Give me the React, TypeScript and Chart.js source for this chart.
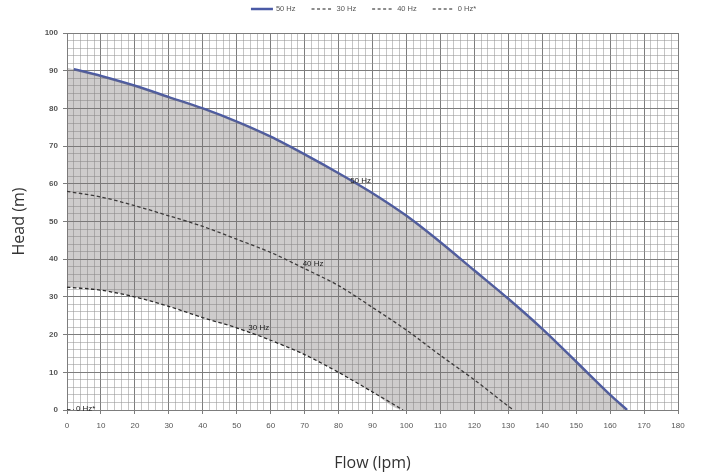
import React, { useEffect, useRef } from 'react';
import { Chart, registerables } from 'chart.js';

Chart.register(...registerables);

// ---- data ----
const flow50 = [2, 10, 20, 30, 40, 50, 60, 70, 80, 90, 100, 110, 120, 130, 140, 150, 160, 165];
const head50 = [90.4, 88.6, 86, 83, 80, 76.5, 72.5, 67.8, 62.8, 57.5, 51.5, 44.5, 37, 29.5, 21.5, 12.8, 4, 0];

const flow40 = [0, 10, 20, 30, 40, 50, 60, 70, 80, 90, 100, 110, 120, 130, 131.5];
const head40 = [58, 56.5, 54.2, 51.5, 48.7, 45.3, 41.8, 37.5, 33, 27.2, 21.2, 14.5, 8, 1, 0];

const flow30 = [0, 10, 20, 30, 40, 50, 60, 70, 80, 90, 99];
const head30 = [32.6, 31.8, 30, 27.5, 24.5, 21.8, 18.5, 14.7, 10, 4.8, 0];

const flow0 = [0, 2];
const head0 = [0, 0];

// shaded operating range: upper edge (50 Hz curve from the axis) and lower edge (30 Hz curve, then the flow axis)
const upperFlow = [0, ...flow50];
const upperHead = [90.8, ...head50];
const boundaryFlow = [...flow30, 165];
const boundaryHead = [...head30, 0];

const legendOrder = ['50 Hz', '30 Hz', '40 Hz', '0 Hz*'];

const curveLabelText = ['50 Hz', '40 Hz', '30 Hz', '0 Hz*'];
const curveLabelFlow = [86.5, 72.5, 56.5, 5.5];
const curveLabelHead = [60.8, 38.8, 21.8, 0.4];

const xTickLabels = ['0', '10', '20', '30', '40', '50', '60', '70', '80', '90', '100', '110', '120', '130', '140', '150', '160', '170', '180'];
const yTickLabels = ['0', '10', '20', '30', '40', '50', '60', '70', '80', '90', '100'];

const toPoints = (xs: number[], ys: number[]) => xs.map((x, i) => ({ x, y: ys[i] }));

const MAJOR = '#7d7d7d';
const MINOR = 'rgba(150,150,150,0.55)';

const curveLabelsPlugin = {
  id: 'curveLabels',
  afterDatasetsDraw(chart: any) {
    const { ctx, scales } = chart;
    ctx.save();
    ctx.font = '8px "Liberation Sans", Arial, sans-serif';
    ctx.fillStyle = '#222';
    ctx.textAlign = 'center';
    ctx.textBaseline = 'middle';
    curveLabelText.forEach((t, i) => {
      const px = scales.x.getPixelForValue(curveLabelFlow[i]);
      const py = scales.y.getPixelForValue(curveLabelHead[i]);
      ctx.fillText(t, px, py);
    });
    ctx.restore();
  },
};

const legendPlugin = {
  id: 'customLegend',
  afterDraw(chart: any) {
    const { ctx, chartArea } = chart;
    ctx.save();
    ctx.font = '7.5px "Liberation Sans", Arial, sans-serif';
    ctx.textBaseline = 'middle';
    const lineW = 22;
    const gap = 3;
    const itemGap = 16;
    const items = legendOrder.map((label) => {
      const ds = chart.data.datasets.find((d: any) => d.label === label);
      return { label, ds, w: lineW + gap + ctx.measureText(label).width };
    });
    const total = items.reduce((s, it) => s + it.w, 0) + itemGap * (items.length - 1);
    let x = (chartArea.left + chartArea.right) / 2 - 9 - total / 2;
    const y = 9;
    items.forEach((it) => {
      ctx.beginPath();
      ctx.strokeStyle = it.ds.borderColor;
      ctx.lineWidth = it.label === '50 Hz' ? 2.5 : 1;
      ctx.setLineDash(it.label === '50 Hz' ? [] : [3, 2.5]);
      ctx.moveTo(x, y);
      ctx.lineTo(x + lineW, y);
      ctx.stroke();
      ctx.setLineDash([]);
      ctx.fillStyle = '#555';
      ctx.textAlign = 'left';
      ctx.fillText(it.label, x + lineW + gap, y);
      x += it.w + itemGap;
    });
    ctx.restore();
  },
};

export default function App() {
  const canvasRef = useRef<HTMLCanvasElement | null>(null);

  useEffect(() => {
    document.body.style.margin = '0';
    const canvas = canvasRef.current;
    if (!canvas) return;
    const chart = new Chart(canvas, {
      type: 'line',
      data: {
        datasets: [
          {
            label: 'range-upper',
            data: toPoints(upperFlow, upperHead),
            borderColor: 'rgba(0,0,0,0)',
            borderWidth: 0,
            backgroundColor: 'rgba(120,115,115,0.36)',
            fill: 5,
            pointRadius: 0,
            tension: 0.3,
          },
          {
            label: '50 Hz',
            data: toPoints(flow50, head50),
            borderColor: '#4a5aa6',
            borderWidth: 2.5,
            fill: false,
            pointRadius: 0,
            tension: 0.3,
          },
          {
            label: '30 Hz',
            data: toPoints(flow30, head30),
            borderColor: '#1a1a1a',
            borderWidth: 1.3,
            borderDash: [3.5, 2.5],
            fill: false,
            pointRadius: 0,
            tension: 0.3,
          },
          {
            label: '40 Hz',
            data: toPoints(flow40, head40),
            borderColor: '#1a1a1a',
            borderWidth: 1.3,
            borderDash: [3.5, 2.5],
            fill: false,
            pointRadius: 0,
            tension: 0.3,
          },
          {
            label: '0 Hz*',
            data: toPoints(flow0, head0),
            borderColor: '#1a1a1a',
            borderWidth: 1.3,
            borderDash: [3.5, 2.5],
            fill: false,
            pointRadius: 0,
          },
          {
            label: 'range-lower',
            data: toPoints(boundaryFlow, boundaryHead),
            borderColor: 'rgba(0,0,0,0)',
            borderWidth: 0,
            fill: false,
            pointRadius: 0,
            tension: 0.3,
          },
        ],
      },
      options: {
        responsive: false,
        animation: false,
        layout: { padding: { top: 33, right: 30, bottom: 0, left: 0 } },
        plugins: {
          legend: { display: false },
          tooltip: { enabled: false },
        },
        scales: {
          x: {
            type: 'linear',
            min: 0,
            max: 180,
            afterFit: (s: any) => {
              s.height = 63;
            },
            ticks: {
              stepSize: 2,
              autoSkip: false,
              maxRotation: 0,
              padding: 7,
              color: '#555',
              font: { family: '"Liberation Sans", Arial, sans-serif', size: 8 },
              callback: (v: any) => {
                const n = Number(v);
                return n % 10 === 0 ? xTickLabels[n / 10] : '';
              },
            },
            grid: {
              color: (c: any) => (c.tick && c.tick.value % 10 === 0 ? MAJOR : MINOR),
              tickColor: (c: any) => (c.tick && c.tick.value % 10 === 0 ? MAJOR : 'rgba(0,0,0,0)'),
              tickLength: 4,
              lineWidth: 1,
            },
            border: { color: MAJOR },
            title: {
              display: true,
              text: 'Flow (lpm)',
              color: '#333',
              font: { family: '"Open Sans", sans-serif', size: 16 },
              padding: { top: 3, bottom: 0 },
            },
          },
          y: {
            type: 'linear',
            min: 0,
            max: 100,
            afterFit: (s: any) => {
              s.width = 67;
            },
            ticks: {
              stepSize: 2,
              autoSkip: false,
              padding: 5,
              color: '#555',
              font: { family: '"Liberation Sans", Arial, sans-serif', size: 8, weight: 'bold' },
              callback: (v: any) => {
                const n = Number(v);
                return n % 10 === 0 ? yTickLabels[n / 10] : '';
              },
            },
            grid: {
              color: (c: any) => (c.tick && c.tick.value % 10 === 0 ? MAJOR : MINOR),
              tickColor: (c: any) => (c.tick && c.tick.value % 10 === 0 ? MAJOR : 'rgba(0,0,0,0)'),
              tickLength: 4,
              lineWidth: 1,
            },
            border: { color: MAJOR },
            title: {
              display: true,
              text: 'Head (m)',
              color: '#333',
              font: { family: '"Open Sans", sans-serif', size: 16 },
              padding: { top: 10, bottom: 0 },
            },
          },
        },
      },
      plugins: [curveLabelsPlugin, legendPlugin],
    } as any);
    return () => chart.destroy();
  }, []);

  return (
    <div style={{ width: 708, height: 473 }}>
      <canvas ref={canvasRef} width={708} height={473} />
    </div>
  );
}
